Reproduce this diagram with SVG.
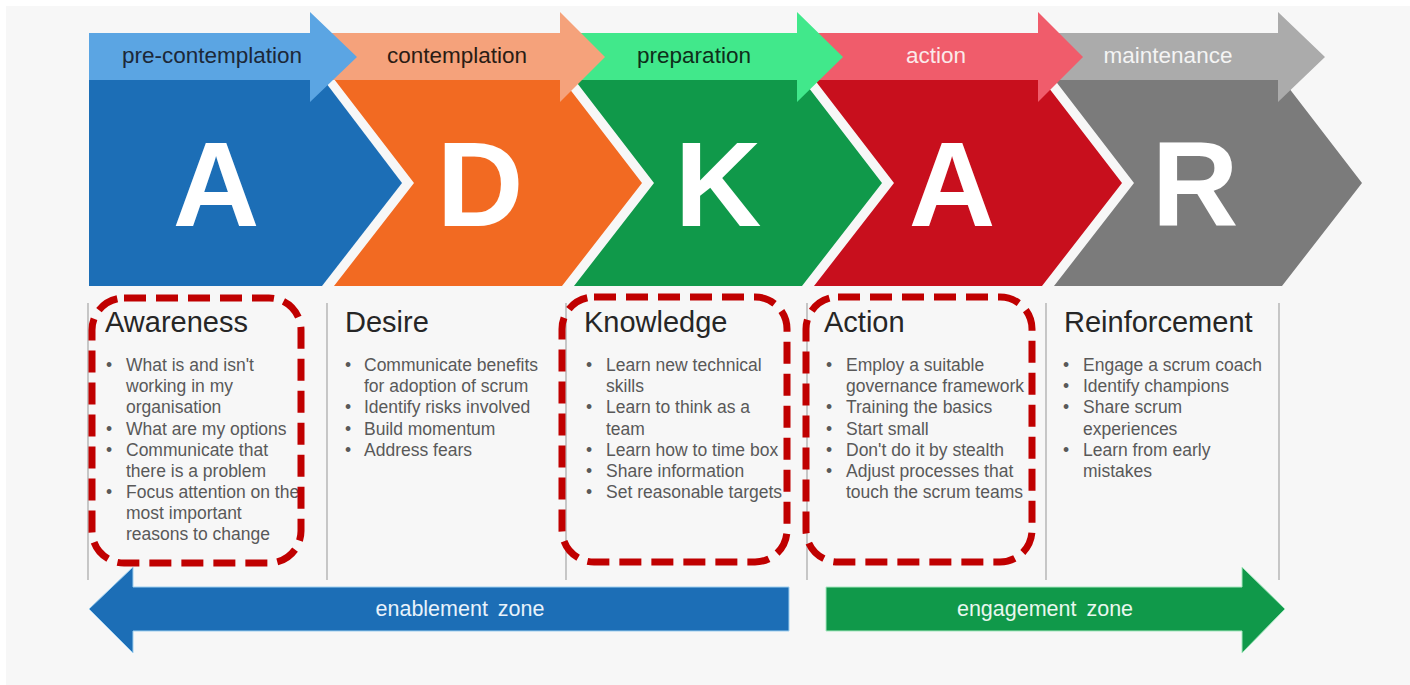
<svg xmlns="http://www.w3.org/2000/svg" width="1410" height="685" viewBox="0 0 1410 685">
<style>
.bg{fill:#f7f7f7}
.letter{font-family:"Liberation Sans",Arial,sans-serif;font-weight:bold;font-size:120px;fill:#ffffff;text-anchor:middle}
.phase{font-family:"Liberation Sans",Arial,sans-serif;font-size:22.5px;text-anchor:middle}
.head{font-family:"Liberation Sans",Arial,sans-serif;font-size:29px;fill:#262626}
.item{font-family:"Liberation Sans",Arial,sans-serif;font-size:17.5px;fill:#595959}
.sep{stroke:#a6a6a6;stroke-width:1.2}
.hl{fill:none;stroke:#c00000;stroke-width:7;stroke-dasharray:22 10}
.zone{font-family:"Liberation Sans",Arial,sans-serif;font-size:21.5px;text-anchor:middle;word-spacing:4px}
</style>
<rect class="bg" x="6" y="6" width="1404" height="679"/>

<g id="stage-A1">
<polygon points="89,79 323,79 402,183 322,286 89,286" fill="#1c6eb6"/>
<text class="letter" x="216" y="226">A</text>
</g>
<g id="stage-D">
<polygon points="334,79 562,79 642,183 562,286 334,286 414,183" fill="#f26a22"/>
<text class="letter" x="480" y="226">D</text>
</g>
<g id="stage-K">
<polygon points="574,79 802,79 882,183 802,286 574,286 654,183" fill="#10994a"/>
<text class="letter" x="718" y="226">K</text>
</g>
<g id="stage-A2">
<polygon points="814,79 1042,79 1122,183 1042,286 814,286 894,183" fill="#c80f1d"/>
<text class="letter" x="952" y="226">A</text>
</g>
<g id="stage-R">
<polygon points="1054,79 1282,79 1362,183 1282,286 1054,286 1134,183" fill="#7b7b7b"/>
<text class="letter" x="1195" y="226">R</text>
</g>

<g id="phase-maintenance">
<polygon points="1038,33 1278,33 1278,12 1325,57 1278,102 1278,80 1038,80" fill="#ababab"/>
<text class="phase" x="1168" y="63" fill="#f4f4f4">maintenance</text>
</g>
<g id="phase-action">
<polygon points="797,33 1038,33 1038,12 1083,57 1038,102 1038,80 797,80" fill="#f05c6b"/>
<text class="phase" x="936" y="63" fill="#fbeaea">action</text>
</g>
<g id="phase-preparation">
<polygon points="560,33 797,33 797,12 843,57 797,102 797,80 560,80" fill="#41e88b"/>
<text class="phase" x="694" y="63" fill="#0e2e1a">preparation</text>
</g>
<g id="phase-contemplation">
<polygon points="310,33 560,33 560,12 605,57 560,102 560,80 310,80" fill="#f5a27b"/>
<text class="phase" x="457" y="63" fill="#2a1c14">contemplation</text>
</g>
<g id="phase-precontemplation">
<polygon points="89,33 310,33 310,12 357,57 310,102 310,80 89,80" fill="#5ba5e3"/>
<text class="phase" x="212" y="63" fill="#1c2838">pre-contemplation</text>
</g>

<g id="separators">
<line class="sep" x1="88" y1="303" x2="88" y2="580"/>
<line class="sep" x1="327" y1="303" x2="327" y2="580"/>
<line class="sep" x1="566" y1="303" x2="566" y2="580"/>
<line class="sep" x1="807" y1="303" x2="807" y2="580"/>
<line class="sep" x1="1046" y1="303" x2="1046" y2="580"/>
<line class="sep" x1="1279" y1="303" x2="1279" y2="580"/>
</g>

<g id="col-awareness">
<text class="head" x="105" y="332">Awareness</text>
<text class="item" x="106"><tspan x="106" y="371">•</tspan><tspan x="106" y="434.5">•</tspan><tspan x="106" y="455.6">•</tspan><tspan x="106" y="497.9">•</tspan></text>
<text class="item"><tspan x="126" y="371">What is and isn't</tspan><tspan x="126" y="392.2">working in my</tspan><tspan x="126" y="413.3">organisation</tspan><tspan x="126" y="434.5">What are my options</tspan><tspan x="126" y="455.6">Communicate that</tspan><tspan x="126" y="476.8">there is a problem</tspan><tspan x="126" y="497.9">Focus attention on the</tspan><tspan x="126" y="519.1">most important</tspan><tspan x="126" y="540.2">reasons to change</tspan></text>
</g>
<g id="col-desire">
<text class="head" x="345" y="332">Desire</text>
<text class="item"><tspan x="345" y="371">•</tspan><tspan x="345" y="413.3">•</tspan><tspan x="345" y="434.5">•</tspan><tspan x="345" y="455.6">•</tspan></text>
<text class="item"><tspan x="364" y="371">Communicate benefits</tspan><tspan x="364" y="392.2">for adoption of scrum</tspan><tspan x="364" y="413.3">Identify  risks involved</tspan><tspan x="364" y="434.5">Build momentum</tspan><tspan x="364" y="455.6">Address fears</tspan></text>
</g>
<g id="col-knowledge">
<text class="head" x="584" y="332">Knowledge</text>
<text class="item"><tspan x="586" y="371">•</tspan><tspan x="586" y="413.3">•</tspan><tspan x="586" y="455.6">•</tspan><tspan x="586" y="476.8">•</tspan><tspan x="586" y="497.9">•</tspan></text>
<text class="item"><tspan x="606" y="371">Learn new technical</tspan><tspan x="606" y="392.2">skills</tspan><tspan x="606" y="413.3">Learn to think as a</tspan><tspan x="606" y="434.5">team</tspan><tspan x="606" y="455.6">Learn how to time box</tspan><tspan x="606" y="476.8">Share information</tspan><tspan x="606" y="497.9">Set reasonable targets</tspan></text>
</g>
<g id="col-action">
<text class="head" x="824" y="332">Action</text>
<text class="item"><tspan x="826" y="371">•</tspan><tspan x="826" y="413.3">•</tspan><tspan x="826" y="434.5">•</tspan><tspan x="826" y="455.6">•</tspan><tspan x="826" y="476.8">•</tspan></text>
<text class="item"><tspan x="846" y="371">Employ a suitable</tspan><tspan x="846" y="392.2">governance framework</tspan><tspan x="846" y="413.3">Training the basics</tspan><tspan x="846" y="434.5">Start small</tspan><tspan x="846" y="455.6">Don't do it by stealth</tspan><tspan x="846" y="476.8">Adjust processes that</tspan><tspan x="846" y="497.9">touch the scrum teams</tspan></text>
</g>
<g id="col-reinforcement">
<text class="head" x="1064" y="332">Reinforcement</text>
<text class="item"><tspan x="1063" y="371">•</tspan><tspan x="1063" y="392.2">•</tspan><tspan x="1063" y="413.3">•</tspan><tspan x="1063" y="455.6">•</tspan></text>
<text class="item"><tspan x="1083" y="371">Engage a scrum coach</tspan><tspan x="1083" y="392.2">Identify  champions</tspan><tspan x="1083" y="413.3">Share scrum</tspan><tspan x="1083" y="434.5">experiences</tspan><tspan x="1083" y="455.6">Learn from early</tspan><tspan x="1083" y="476.8">mistakes</tspan></text>
</g>

<g id="highlights">
<rect id="hl-awareness" class="hl" x="92" y="298" width="209" height="265" rx="32" ry="32"/>
<rect id="hl-knowledge" class="hl" x="562" y="297" width="225" height="265" rx="32" ry="32"/>
<rect id="hl-action" class="hl" x="806" y="297" width="226" height="265" rx="32" ry="32"/>
</g>

<g id="zone-enablement">
<polygon points="789,587 789,631 133,631 133,653 89,609 133,567 133,587" fill="#1c6eb6" stroke="#9fd0f0" stroke-width="1"/>
<text class="zone" x="460" y="616" fill="#e8f2fb">enablement zone</text>
</g>
<g id="zone-engagement">
<polygon points="826,587 1242,587 1242,567 1285,609 1242,653 1242,631 826,631" fill="#10994a" stroke="#a8e8c0" stroke-width="1"/>
<text class="zone" x="1045" y="616" fill="#e8f7ee">engagement zone</text>
</g>
</svg>
